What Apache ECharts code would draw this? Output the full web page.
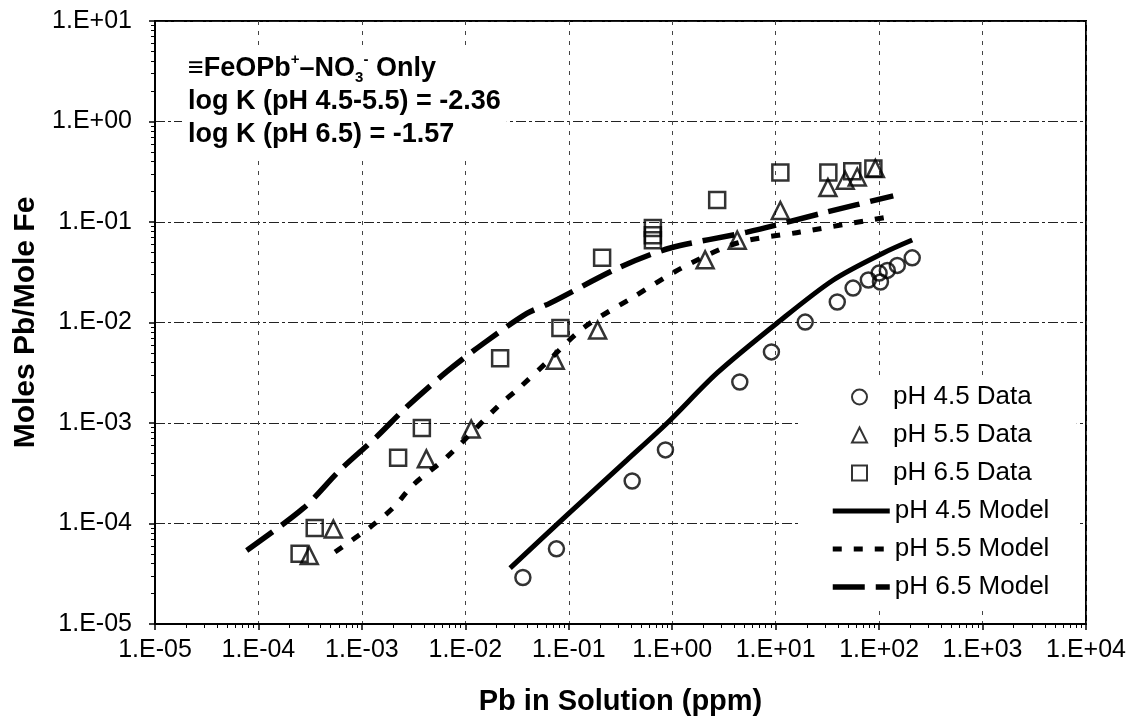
<!DOCTYPE html>
<html><head><meta charset="utf-8">
<script src="https://cdn.jsdelivr.net/npm/echarts@6/dist/echarts.min.js"></script>
<style>html,body{margin:0;padding:0;background:#fff}#c{width:1134px;height:725px}</style>
</head><body><div id="c"></div>
<script>
// ---- tick labels ----
const xTickLabels = ['1.E-05','1.E-04','1.E-03','1.E-02','1.E-01','1.E+00','1.E+01','1.E+02','1.E+03','1.E+04'];
const yTickLabels = ['1.E-05','1.E-04','1.E-03','1.E-02','1.E-01','1.E+00','1.E+01'];
const dataNames = ['pH 4.5 Data','pH 5.5 Data','pH 6.5 Data'];
const modelNames = ['pH 4.5 Model','pH 5.5 Model','pH 6.5 Model'];

// ---- data: Pb in solution (ppm) vs Moles Pb / Mole Fe ----
const ph45DataX = [0.036, 0.076, 0.41, 0.86, 4.5, 9.1, 19.3, 39.4, 56, 78.7, 100, 103, 120, 150, 209];
const ph45DataY = [2.9e-5, 5.6e-5, 2.65e-4, 5.4e-4, 2.56e-3, 5.1e-3, 0.0101, 0.016, 0.022, 0.0265, 0.031, 0.0253, 0.033, 0.037, 0.044];

const ph55DataX = [3.1e-4, 5.3e-4, 4.2e-3, 1.14e-2, 0.074, 0.19, 2.08, 4.25, 11.1, 32, 47, 61.5, 92];
const ph55DataY = [4.8e-5, 8.8e-5, 4.4e-4, 8.7e-4, 4.2e-3, 8.4e-3, 0.042, 0.066, 0.13, 0.22, 0.26, 0.28, 0.34];

const ph65DataX = [2.5e-4, 3.5e-4, 2.24e-3, 3.8e-3, 2.17e-2, 0.083, 0.21, 0.65, 0.65, 0.65, 2.72, 11.1, 32.3, 55, 88];
const ph65DataY = [5.0e-5, 9.0e-5, 4.5e-4, 8.9e-4, 4.4e-3, 8.8e-3, 0.044, 0.066, 0.074, 0.087, 0.166, 0.31, 0.31, 0.32, 0.34];

const ph45ModelX = [0.0271, 0.0966, 0.367, 0.895, 2.72, 10.35, 36.1, 110, 209];
const ph45ModelY = [3.6e-5, 1.22e-4, 4.3e-4, 1.0e-3, 3.15e-3, 9.9e-3, 0.0265, 0.0492, 0.0662];

const ph55ModelX = [5.5e-4, 1.2e-3, 2.0e-3, 3.13e-3, 6.67e-3, 0.0203, 0.0339, 0.0618, 0.138, 0.42, 1.28, 4.26, 17.3, 120];
const ph55ModelY = [5.2e-5, 9.2e-5, 1.43e-4, 2.42e-4, 4.6e-4, 1.44e-3, 2.28e-3, 4.05e-3, 8.8e-3, 0.0179, 0.0356, 0.0618, 0.0794, 0.112];

const ph65ModelX = [7.7e-5, 2.72e-4, 6.15e-4, 1.39e-3, 2.72e-3, 6.62e-3, 0.015, 0.0394, 0.066, 0.314, 0.957, 5.3, 31.6, 137];
const ph65ModelY = [5.4e-5, 1.42e-4, 3.4e-4, 7.3e-4, 1.45e-3, 3.24e-3, 6.2e-3, 0.0123, 0.0156, 0.0356, 0.0551, 0.0794, 0.126, 0.182];

function pairs(xs, ys) { return xs.map((x, i) => [x, ys[i]]); }

const FONT = "'Liberation Sans', Arial, Helvetica, sans-serif";
const chart = echarts.init(document.getElementById('c'), null, {renderer: 'canvas'});

const markerStyle = {color: 'rgba(0,0,0,0)', borderColor: '#000', borderWidth: 2.5};
const legendText = {fontSize: 26, color: '#000', fontFamily: FONT, lineHeight: 28};
const noSymbol = {color: 'rgba(0,0,0,0)', borderColor: 'rgba(0,0,0,0)', borderWidth: 0};
const modelLineStyles = [
  {color: '#000', width: 5, type: 'solid'},
  {color: '#000', width: 5, type: [9, 12]},
  {color: '#000', width: 5.5, type: [32, 11]}
];

const option = {
  backgroundColor: '#fff',
  animation: false,
  textStyle: {fontFamily: FONT, color: '#000'},
  grid: {left: 155, right: 48, top: 21, bottom: 101, show: true, borderColor: '#000', borderWidth: 2, backgroundColor: 'transparent'},
  xAxis: {
    type: 'log', logBase: 10, min: 1e-5, max: 1e4, splitNumber: 9,
    name: 'Pb in Solution (ppm)', nameLocation: 'middle', nameGap: 63,
    nameTextStyle: {fontSize: 29, fontWeight: 'bold', fontFamily: FONT, color: '#000'},
    axisLine: {show: true, onZero: false, lineStyle: {color: '#000', width: 2}},
    axisTick: {show: true, inside: false, length: 6, lineStyle: {color: '#000', width: 1.5}},
    minorTick: {show: true, splitNumber: 9, length: 4, lineStyle: {color: '#000', width: 1}},
    axisLabel: {margin: 14, fontSize: 25, color: '#000', fontFamily: FONT,
      formatter: v => xTickLabels[Math.round(Math.log10(v)) + 5]},
    splitLine: {show: true, lineStyle: {color: '#444', width: 1, type: [4, 6]}},
    minorSplitLine: {show: false}
  },
  yAxis: {
    type: 'log', logBase: 10, min: 1e-5, max: 10, splitNumber: 6,
    name: 'Moles Pb/Mole Fe', nameLocation: 'middle', nameGap: 100, nameRotate: 90,
    nameTextStyle: {fontSize: 30, fontWeight: 'bold', fontFamily: FONT, color: '#000'},
    axisLine: {show: true, onZero: false, lineStyle: {color: '#000', width: 2}},
    axisTick: {show: true, inside: false, length: 6, lineStyle: {color: '#000', width: 1.5}},
    minorTick: {show: true, splitNumber: 9, length: 4, lineStyle: {color: '#000', width: 1}},
    axisLabel: {margin: 23, fontSize: 25, color: '#000', fontFamily: FONT,
      formatter: v => yTickLabels[Math.round(Math.log10(v)) + 5]},
    splitLine: {show: true, lineStyle: {color: '#222', width: 1, type: [10, 3, 3, 3]}},
    minorSplitLine: {show: false}
  },
  legend: [{
    orient: 'vertical', left: 800, top: 378,
    padding: [5, 45, 5, 51],
    backgroundColor: '#fff',
    itemWidth: 15, itemHeight: 15, itemGap: 10,
    textStyle: Object.assign({padding: [0, 0, 0, 21]}, legendText),
    data: dataNames
  }, {
    orient: 'vertical', left: 800, top: 492,
    padding: [5, 30, 8, 30],
    backgroundColor: '#fff',
    itemWidth: 57, itemHeight: 14, itemGap: 10,
    textStyle: legendText,
    data: modelNames.map((n, i) => ({name: n, itemStyle: noSymbol, lineStyle: modelLineStyles[i]}))
  }],
  graphic: [{
    type: 'text', left: 182, top: 48, z: 100,
    style: {
      text: '{a|≡FeOPb}{sup|+}{a|–NO}{sub|3}{sup|-}{a| Only}\n{a|log K (pH 4.5-5.5) = -2.36}\n{a|log K (pH 6.5) = -1.57}',
      backgroundColor: '#fff',
      padding: [4, 6, 6, 6],
      rich: {
        a: {fontSize: 27, fontWeight: 'bold', fontFamily: FONT, color: '#000', lineHeight: 33},
        sup: {fontSize: 15, fontWeight: 'bold', fontFamily: FONT, color: '#000', lineHeight: 15, verticalAlign: 'top'},
        sub: {fontSize: 15, fontWeight: 'bold', fontFamily: FONT, color: '#000', lineHeight: 15, verticalAlign: 'bottom'}
      }
    }
  }],
  series: [
    {name: dataNames[0], type: 'scatter', symbol: 'circle', symbolSize: 15, z: 4,
     itemStyle: markerStyle, data: pairs(ph45DataX, ph45DataY)},
    {name: dataNames[1], type: 'scatter', symbol: 'triangle', symbolSize: 17, z: 4,
     itemStyle: markerStyle, data: pairs(ph55DataX, ph55DataY)},
    {name: dataNames[2], type: 'scatter', symbol: 'rect', symbolSize: 16, z: 4,
     itemStyle: markerStyle, data: pairs(ph65DataX, ph65DataY)},
    {name: modelNames[0], type: 'line', symbol: 'none', smooth: 0.3, z: 3,
     itemStyle: {color: '#000'}, lineStyle: modelLineStyles[0],
     data: pairs(ph45ModelX, ph45ModelY)},
    {name: modelNames[1], type: 'line', symbol: 'none', smooth: 0.3, z: 3,
     itemStyle: {color: '#000'}, lineStyle: modelLineStyles[1],
     data: pairs(ph55ModelX, ph55ModelY)},
    {name: modelNames[2], type: 'line', symbol: 'none', smooth: 0.3, z: 3,
     itemStyle: {color: '#000'}, lineStyle: modelLineStyles[2],
     data: pairs(ph65ModelX, ph65ModelY)}
  ]
};
chart.setOption(option);
</script>
</body></html>
